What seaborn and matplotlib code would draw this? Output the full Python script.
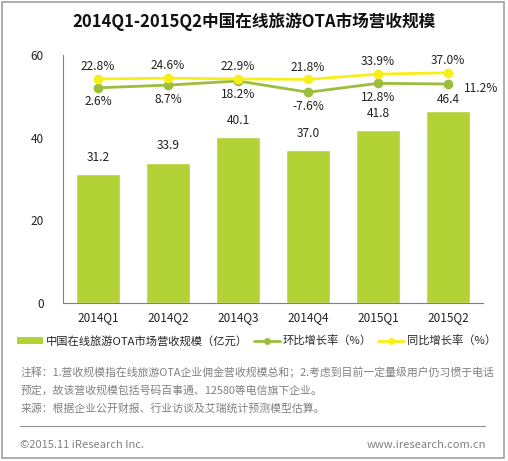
import numpy as np
import pandas as pd
import matplotlib
matplotlib.use("Agg")
import matplotlib.pyplot as plt
import seaborn as sns
from matplotlib.lines import Line2D
from matplotlib.patches import Patch, Rectangle

quarters = ["2014Q1", "2014Q2", "2014Q3", "2014Q4", "2015Q1", "2015Q2"]
revenue = [31.2, 33.9, 40.1, 37.0, 41.8, 46.4]
qoq = [2.6, 8.7, 18.2, -7.6, 12.8, 11.2]
yoy = [22.8, 24.6, 22.9, 21.8, 33.9, 37.0]

bar_color = "#B3D236"
qoq_color = "#9BBF3C"
yoy_color = "#F8EF1A"
gray_text = "#808080"

sns.set_theme(style="white")
plt.rcParams["font.family"] = ["Noto Sans CJK SC", "DejaVu Sans"]
plt.rcParams["axes.unicode_minus"] = False

df = pd.DataFrame({"quarter": quarters, "revenue": revenue})

fig = plt.figure(figsize=(5.08, 4.61), dpi=100)
ax = fig.add_axes([0.124, 0.343, 0.827, 0.538])

sns.barplot(data=df, x="quarter", y="revenue", color=bar_color, width=0.63,
            saturation=1, ax=ax)
ax.set_ylim(0, 60)
ax.set_yticks([0, 20, 40, 60])
ax.set_xlabel("")
ax.set_ylabel("")
for s in ["top", "right"]:
    ax.spines[s].set_visible(False)
ax.spines["left"].set_color("#808080")
ax.spines["bottom"].set_color("#808080")
ax.spines["left"].set_linewidth(0.8)
ax.spines["bottom"].set_linewidth(0.8)
ax.tick_params(axis="both", length=0, labelsize=8.5, colors="#222222")
ax.tick_params(axis="y", pad=14)
ax.tick_params(axis="x", pad=6)
for i, v in enumerate(revenue):
    gap = 1.2 if i == len(revenue) - 1 else 2.5
    ax.text(i, v + gap, f"{v:.1f}", ha="center", va="bottom", fontsize=8.6, color="#222222")

# growth rates on hidden secondary axis
ax2 = ax.twinx()
pos = np.arange(len(quarters))
sns.lineplot(x=pos, y=qoq, color=qoq_color, marker="o", markersize=7,
             markeredgewidth=0, linewidth=2, ax=ax2)
sns.lineplot(x=pos, y=yoy, color=yoy_color, marker="o", markersize=7,
             markeredgewidth=0, linewidth=2, ax=ax2)
ax2.set_ylim(-490, 78)
ax2.axis("off")
ax.set_xlim(-0.5, 5.5)

for i, v in enumerate(yoy):
    ax2.text(i, v + 28, f"{v:.1f}%", ha="center", va="center", fontsize=8.6, color="#222222")
for i, v in enumerate(qoq):
    if i == len(qoq) - 1:
        ax2.text(i + 0.22, v - 11, f"{v:.1f}%", ha="left", va="center", fontsize=8.6, color="#222222")
    else:
        ax2.text(i, v - 32, f"{v:.1f}%", ha="center", va="center", fontsize=8.6, color="#222222")

fig.text(0.5, 0.952, "2014Q1-2015Q2中国在线旅游OTA市场营收规模", ha="center", va="center",
         fontsize=12, fontweight="bold", color="#111111")

handles = [
    Patch(facecolor=bar_color, edgecolor="none"),
    Line2D([0], [0], color=qoq_color, lw=2, marker="o", markersize=4),
    Line2D([0], [0], color=yoy_color, lw=2, marker="o", markersize=4),
]
labels = ["中国在线旅游OTA市场营收规模（亿元）", "环比增长率（%）", "同比增长率（%）"]
fig.legend(handles, labels, loc="center", bbox_to_anchor=(0.505, 1 - 341 / 461), ncol=3,
           frameon=False, fontsize=8.1, handlelength=2.3, handleheight=0.55,
           handletextpad=0.3, columnspacing=0.5, borderpad=0, borderaxespad=0)

notes = [
    "注释：1.营收规模指在线旅游OTA企业佣金营收规模总和；2.考虑到目前一定量级用户仍习惯于电话",
    "预定，故该营收规模包括号码百事通、12580等电信旗下企业。",
    "来源：根据企业公开财报、行业访谈及艾瑞统计预测模型估算。",
]
for k, line in enumerate(notes):
    fig.text(0.04, 1 - (372 + k * 18.3) / 461, line, ha="left", va="center",
             fontsize=7.8, color=gray_text)

fig.add_artist(Line2D([0.04, 0.955], [1 - 426 / 461, 1 - 426 / 461], color="#909090", lw=0.8))
fig.text(0.04, 1 - 445 / 461, "©2015.11 iResearch Inc.", ha="left", va="center",
         fontsize=8, color=gray_text)
fig.text(0.957, 1 - 445 / 461, "www.iresearch.com.cn", ha="right", va="center",
         fontsize=8, color=gray_text)

fig.add_artist(Rectangle((0.004, 0.006), 0.988, 0.99, transform=fig.transFigure,
                         fill=False, edgecolor="#A0A0A0", lw=1.2))

fig.savefig("out.png", dpi=100)
